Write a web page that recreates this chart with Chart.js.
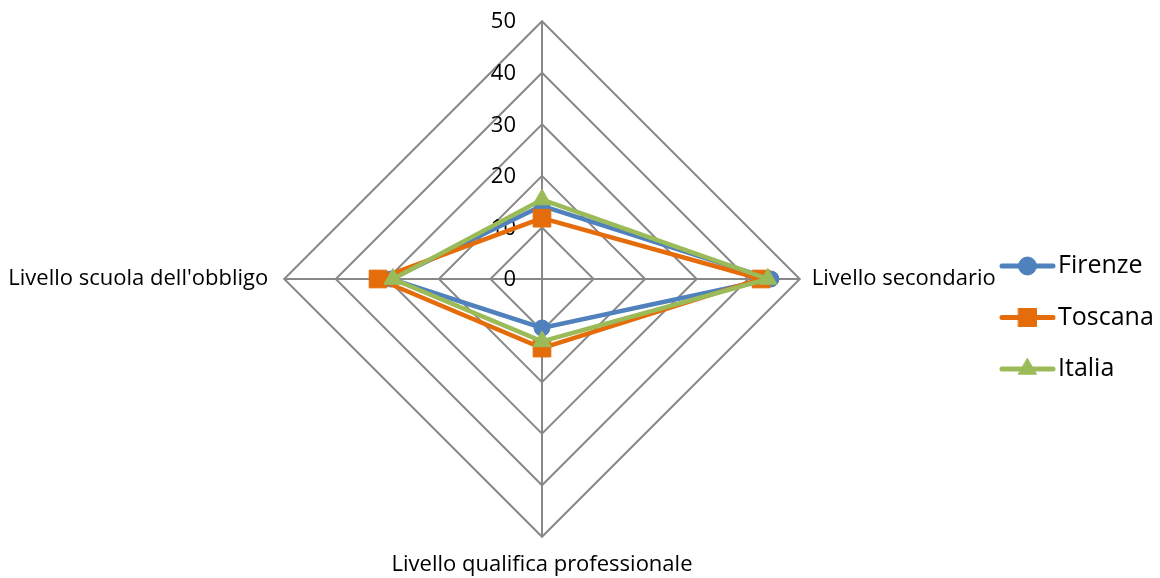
<!DOCTYPE html>
<html>
<head>
<meta charset="utf-8">
<script src="https://cdn.jsdelivr.net/npm/chart.js@4.4.1/dist/chart.umd.min.js"></script>
<style>
  html, body { margin: 0; padding: 0; background: #fff; overflow: hidden; }
  #wrap { width: 1160px; height: 578px; position: relative; overflow: hidden; }
  #c { position: absolute; left: -38px; top: -10px; }
</style>
</head>
<body>
<div id="wrap"><canvas id="c" width="1198" height="596"></canvas></div>
<script>
// Axis categories (the top spoke carries no label)
const categories = ['', 'Livello secondario', 'Livello qualifica professionale', "Livello scuola dell'obbligo"];
const seriesNames = ['Firenze', 'Toscana', 'Italia'];
const firenze = [14.2, 44.4, 9.5, 29.3];
const toscana = [11.8, 42.5, 13.4, 31.8];
const italia = [15.4, 43.8, 12.1, 28.9];
const tickValues = [0, 10, 20, 30, 40, 50];

const FONT = '"Open Sans", "Noto Sans", sans-serif';
const colors = ['#4f81bd', '#e46c0a', '#9bbb59'];
const styles = ['circle', 'rect', 'triangle'];
const plotRadius = [8, 12.5, 10.5];
const legendRadius = [9, 12.7, 10.4];
const seriesValues = [firenze, toscana, italia];

// Canvas sits 38px left / 10px up of the page box
const OFF_X = 38, OFF_Y = 10;

// Radial tick labels, set just left of the vertical spoke
const tickLabelPlugin = {
  id: 'tickLabelPlugin',
  beforeDatasetsDraw(chart) {
    const s = chart.scales.r;
    const ctx = chart.ctx;
    ctx.save();
    ctx.font = '22px ' + FONT;
    ctx.fillStyle = '#000';
    ctx.textAlign = 'right';
    ctx.textBaseline = 'middle';
    tickValues.forEach(v => {
      const d = s.getDistanceFromCenterForValue(v);
      ctx.fillText(String(v), s.xCenter - 26, s.yCenter - d + 1);
    });
    ctx.restore();
  }
};

// Legend on the right: line sample with marker, then the series name
const sideLegendPlugin = {
  id: 'sideLegendPlugin',
  afterDraw(chart) {
    const ctx = chart.ctx;
    const x0 = 1002 + OFF_X, x1 = 1053 + OFF_X, y0 = 266 + OFF_Y, gap = 51.5;
    chart.data.datasets.forEach((ds, i) => {
      const y = y0 + i * gap;
      ctx.save();
      ctx.strokeStyle = ds.borderColor;
      ctx.lineWidth = 5;
      ctx.lineCap = 'round';
      ctx.beginPath();
      ctx.moveTo(x0, y);
      ctx.lineTo(x1, y);
      ctx.stroke();
      ctx.fillStyle = ds.pointBackgroundColor;
      ctx.strokeStyle = ds.pointBorderColor;
      ctx.lineWidth = 1;
      Chart.helpers.drawPoint(ctx, { pointStyle: ds.pointStyle, radius: legendRadius[i], rotation: 0, borderWidth: 1 }, (x0 + x1) / 2, y);
      ctx.fillStyle = '#000';
      ctx.font = '25px ' + FONT;
      ctx.textAlign = 'left';
      ctx.textBaseline = 'middle';
      ctx.fillText(ds.label, 1058 + OFF_X, y);
      ctx.restore();
    });
  }
};

const datasets = seriesNames.map((name, i) => ({
  label: name,
  data: seriesValues[i],
  borderColor: colors[i],
  backgroundColor: colors[i],
  pointBackgroundColor: colors[i],
  pointBorderColor: colors[i],
  pointBorderWidth: 1,
  pointStyle: styles[i],
  pointRadius: plotRadius[i],
  pointHoverRadius: plotRadius[i],
  borderWidth: 4.5,
  fill: false,
  order: seriesNames.length - i
}));

new Chart(document.getElementById('c'), {
  type: 'radar',
  data: { labels: categories, datasets },
  options: {
    responsive: false,
    animation: false,
    layout: { padding: { left: 0, right: 38, top: 0, bottom: 0 } },
    plugins: { legend: { display: false }, tooltip: { enabled: false } },
    elements: { line: { tension: 0 } },
    scales: {
      r: {
        min: 0,
        max: 50,
        ticks: { stepSize: 10, display: false },
        grid: { color: '#888888', lineWidth: 2 },
        angleLines: { color: '#888888', lineWidth: 2 },
        pointLabels: {
          color: '#000',
          font: { family: FONT, size: 22, lineHeight: 1.1 },
          padding: (ctx) => [0, 12, 16, 16][ctx.index]
        }
      }
    }
  },
  plugins: [tickLabelPlugin, sideLegendPlugin]
});
</script>
</body>
</html>
